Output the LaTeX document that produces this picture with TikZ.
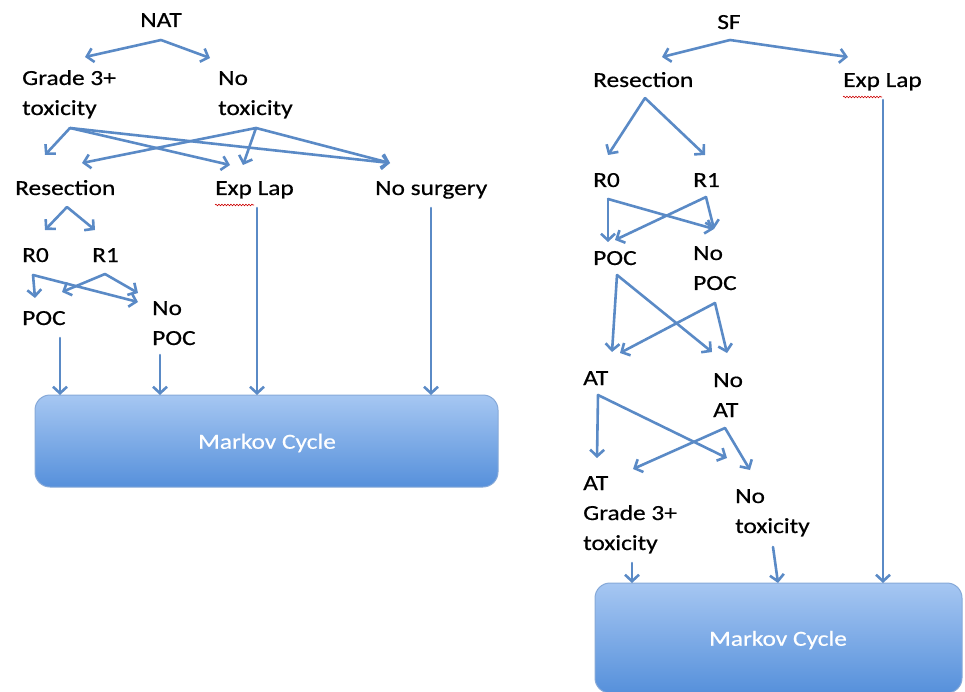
\documentclass[tikz,border=0pt]{standalone}
\usepackage{fontspec}
\setmainfont{Carlito}[FakeStretch=1.18,FakeBold=0.5]
\usetikzlibrary{arrows.meta,decorations.pathmorphing}
\definecolor{arrowblue}{HTML}{5A8AC6}
\definecolor{boxtop}{HTML}{A6C7F2}
\definecolor{boxbot}{HTML}{5690DB}
\definecolor{boxedge}{HTML}{86A9D8}
\tikzset{
  lbl/.style={inner sep=0pt, anchor=base west, align=left, font=\fontsize{21.5}{30}\selectfont},
  clbl/.style={lbl, anchor=base},
  arr/.style={draw=arrowblue, line width=2.6pt, line cap=round, line join=round,
    -{Straight Barb[length=6.5pt,width=14pt,line width=2.6pt]}},
  markov/.style={draw=boxedge, line width=1pt, rounded corners=15pt, top color=boxtop, bottom color=boxbot},
  mtext/.style={text=white, inner sep=0pt, font=\fontsize{21.5}{30}\selectfont},
  squig/.style={draw=red!80!black, line width=0.6pt, decorate, decoration={snake, amplitude=0.8pt, segment length=3pt}}
}
\begin{document}
\begin{tikzpicture}[x=1pt,y=-1pt]
\useasboundingbox (0,0) rectangle (965,692);
% ---------------- left tree (NAT) ----------------
\node[clbl] (nat) at (161,27) {NAT};
\node[lbl] (g3) at (22,115) {Grade 3+\\toxicity};
\node[lbl] (ntox) at (218,115) {No\\toxicity};
\node[lbl] (res) at (15,195) {Resection};
\node[lbl] (exp) at (215,195) {Exp Lap};
\node[lbl] (nos) at (375,195) {No surgery};
\node[lbl] (r0) at (22,262) {R0};
\node[lbl] (r1) at (92,262) {R1};
\node[lbl] (poc) at (22,325) {POC};
\node[lbl] (npoc) at (152,345) {No\\POC};
\node[markov, minimum width=463pt, minimum height=92pt, inner sep=0pt] (mk1) at (266.5,441) {};
\node[mtext] (mk1t) at (267,443) {Markov Cycle};
\draw[squig] (215,205) -- (254,205);

\coordinate (natA) at (161,40);
\coordinate (natL) at (85,57);  \coordinate (natR) at (210,58);
\coordinate (g3A) at (70,128);
\coordinate (g3a) at (45,155); \coordinate (g3b) at (230,165); \coordinate (g3c) at (390,163);
\coordinate (ntA) at (256,128);
\coordinate (nta) at (82,163); \coordinate (ntb) at (243,165); \coordinate (ntc) at (390,163);
\coordinate (resA) at (67,207);
\coordinate (resL) at (45,230); \coordinate (resR) at (95,230);
\coordinate (r0A) at (33,275);
\coordinate (r0a) at (35,298); \coordinate (r0b) at (138,302);
\coordinate (r1A) at (105,274);
\coordinate (r1a) at (62,292); \coordinate (r1b) at (138,293);
\coordinate (pocS) at (60,338); \coordinate (pocE) at (60,395);
\coordinate (npS) at (160,355); \coordinate (npE) at (160,395);
\coordinate (expS) at (257,208); \coordinate (expE) at (257,395);
\coordinate (nosS) at (431,208); \coordinate (nosE) at (431,395);

\draw[arr] (natA) -- (natL);
\draw[arr] (natA) -- (natR);
\draw[arr] (g3A) -- (g3a);
\draw[arr] (g3A) -- (g3b);
\draw[arr] (g3A) -- (g3c);
\draw[arr] (ntA) -- (nta);
\draw[arr] (ntA) -- (ntb);
\draw[arr] (ntA) -- (ntc);
\draw[arr] (resA) -- (resL);
\draw[arr] (resA) -- (resR);
\draw[arr] (r0A) -- (r0a);
\draw[arr] (r0A) -- (r0b);
\draw[arr] (r1A) -- (r1a);
\draw[arr] (r1A) -- (r1b);
\draw[arr] (pocS) -- (pocE);
\draw[arr] (npS) -- (npE);
\draw[arr] (expS) -- (expE);
\draw[arr] (nosS) -- (nosE);

% ---------------- right tree (SF) ----------------
\node[clbl] (sf) at (729,29) {SF};
\node[lbl] (rres) at (593,87) {Resection};
\node[lbl] (rexp) at (843,87) {Exp Lap};
\node[lbl] (rr0) at (593,187) {R0};
\node[lbl] (rr1) at (693,187) {R1};
\node[lbl] (rpoc) at (593,265) {POC};
\node[lbl] (rnpoc) at (693,290) {No\\POC};
\node[lbl] (at) at (583,385) {AT};
\node[lbl] (nat2) at (713,417) {No\\AT};
\node[lbl] (atg) at (583,550) {AT\\Grade 3+\\toxicity};
\node[lbl] (rnt) at (735,533) {No\\toxicity};
\node[markov, minimum width=367pt, minimum height=110pt, inner sep=0pt] (mk2) at (778.5,638) {};
\node[mtext] (mk2t) at (778,640) {Markov Cycle};
\draw[squig] (843,97) -- (882,97);

\coordinate (sfA) at (730,40);
\coordinate (sfL) at (662,57); \coordinate (sfR) at (848,57);
\coordinate (rresA) at (645,98);
\coordinate (rresL) at (608,155); \coordinate (rresR) at (705,155);
\coordinate (rr0A) at (608,199);
\coordinate (rr0a) at (608,242); \coordinate (rr0b) at (714,229);
\coordinate (rr1A) at (706,197);
\coordinate (rr1a) at (714,229); \coordinate (rr1b) at (615,240);
\coordinate (rpocA) at (617,275);
\coordinate (rpoca) at (612,352); \coordinate (rpocb) at (712,352);
\coordinate (rnpA) at (715,303);
\coordinate (rnpa) at (620,353); \coordinate (rnpb) at (727,353);
\coordinate (atA) at (598,395);
\coordinate (ata) at (597,458); \coordinate (atb) at (727,458);
\coordinate (natA2) at (725,428);
\coordinate (nata) at (633,469); \coordinate (natb) at (750,470);
\coordinate (atgS) at (632,563); \coordinate (atgE) at (632,583);
\coordinate (rntS) at (773,547); \coordinate (rntE) at (778,583);
\coordinate (rexpS) at (883,100); \coordinate (rexpE) at (883,583);

\draw[arr] (sfA) -- (sfL);
\draw[arr] (sfA) -- (sfR);
\draw[arr] (rresA) -- (rresL);
\draw[arr] (rresA) -- (rresR);
\draw[arr] (rr0A) -- (rr0a);
\draw[arr] (rr0A) -- (rr0b);
\draw[arr] (rr1A) -- (rr1a);
\draw[arr] (rr1A) -- (rr1b);
\draw[arr] (rpocA) -- (rpoca);
\draw[arr] (rpocA) -- (rpocb);
\draw[arr] (rnpA) -- (rnpa);
\draw[arr] (rnpA) -- (rnpb);
\draw[arr] (atA) -- (ata);
\draw[arr] (atA) -- (atb);
\draw[arr] (natA2) -- (nata);
\draw[arr] (natA2) -- (natb);
\draw[arr] (atgS) -- (atgE);
\draw[arr] (rntS) -- (rntE);
\draw[arr] (rexpS) -- (rexpE);
\end{tikzpicture}
\end{document}
